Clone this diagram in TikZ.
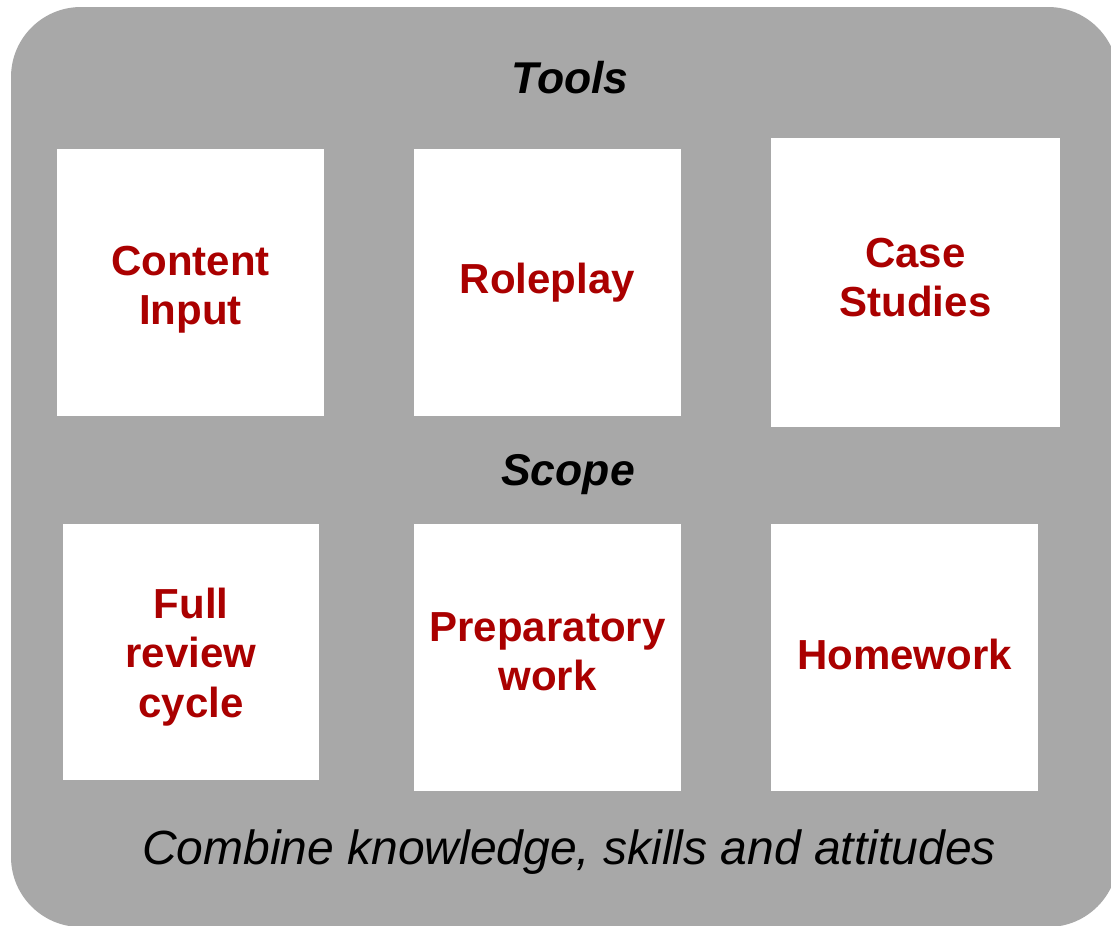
\documentclass[tikz,border=0pt]{standalone}
\usepackage{fontspec}
\setmainfont{Liberation Sans}
\definecolor{bggray}{RGB}{168,168,168}
\definecolor{boxred}{RGB}{170,0,0}
\begin{document}
\begin{tikzpicture}[x=1pt,y=-1pt,
  card/.style={fill=white, draw=none, inner sep=0pt},
  cardtext/.style={inner sep=0pt, align=center, text=boxred,
    font=\fontsize{42}{49.5}\selectfont\bfseries},
  heading/.style={anchor=base, inner sep=0pt, text=black,
    font=\fontsize{44.5}{50}\selectfont\bfseries\itshape},
  footer/.style={anchor=base, inner sep=0pt, text=black,
    font=\fontsize{48}{56}\selectfont\itshape}
  ]
\useasboundingbox (0,0) rectangle (1111,926);
\clip (0,0) rectangle (1111,926);
\fill[bggray, rounded corners=70pt] (11,7) rectangle (1118,927);
\node[heading] (tools) at (570,93) {Tools};
\node[card, minimum width=267pt, minimum height=267pt] (ci) at (190.5,282.5) {};
\node[card, minimum width=267pt, minimum height=267pt] (rp) at (547.5,282.5) {};
\node[card, minimum width=289pt, minimum height=289pt] (cs) at (915.5,282.5) {};
\node[heading] (scope) at (568,485) {Scope};
\node[card, minimum width=256pt, minimum height=256pt] (fr) at (191,652) {};
\node[card, minimum width=267pt, minimum height=267pt] (pw) at (547.5,657.5) {};
\node[card, minimum width=267pt, minimum height=267pt] (hw) at (904.5,657.5) {};
\node[cardtext] (ci-t) at ([yshift=-7pt]ci.center) {Content\\Input};
\node[cardtext] (rp-t) at (rp.center) {Roleplay};
\node[cardtext] (cs-t) at ([yshift=5pt]cs.center) {Case\\Studies};
\node[cardtext] (fr-t) at ([yshift=-5pt]fr.center) {Full\\review\\cycle};
\node[cardtext] (pw-t) at ([yshift=6pt]pw.center) {Preparatory\\work};
\node[cardtext] (hw-t) at ([yshift=3pt]hw.center) {Homework};
\node[footer] (comb) at (569,864) {Combine knowledge, skills and attitudes};
\end{tikzpicture}
\end{document}
